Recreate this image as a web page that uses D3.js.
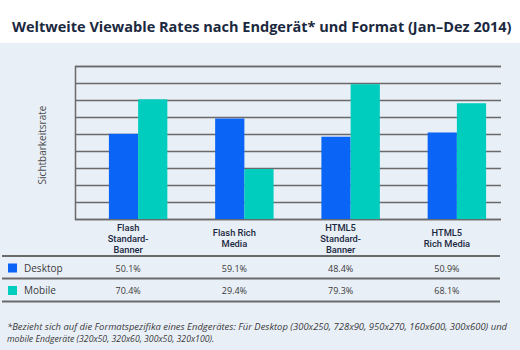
<!DOCTYPE html>
<html><head><meta charset="utf-8">
<script src="https://cdn.jsdelivr.net/npm/d3@7"></script>
<style>
html,body{margin:0;padding:0;background:#fff;}
svg{display:block;font-family:"Open Sans",sans-serif;}
</style></head>
<body><svg id="c" width="520" height="350"></svg>
<script>
const categories = [["Flash","Standard-","Banner"],["Flash Rich","Media"],["HTML5","Standard-","Banner"],["HTML5","Rich Media"]];
const seriesNames = ["Desktop","Mobile"];
const desktop = [50.1, 59.1, 48.4, 50.9];
const mobile = [70.4, 29.4, 79.3, 68.1];
const desktopLabels = ["50.1%","59.1%","48.4%","50.9%"];
const mobileLabels = ["70.4%","29.4%","79.3%","68.1%"];
const yTicks = [0,10,20,30,40,50,60,70,80,90];
const colors = ["#0a64f5","#00cdbd"];
const titleText = "Weltweite Viewable Rates nach Endgerät* und Format (Jan–Dez 2014)";
const yLabel = "Sichtbarkeitsrate";
const footnote = ["*Bezieht sich auf die  Formatspezifika eines Endgerätes: Für  Desktop (300x250, 728x90, 950x270, 160x600, 300x600) und","mobile Endgeräte (320x50, 320x60, 300x50, 320x100)."];

const svg = d3.select("#c");
svg.append("rect").attr("x",0).attr("y",43).attr("width",520).attr("height",307).attr("fill","#e9eff7");
const title = svg.append("text").attr("x",12).attr("y",32).attr("font-size",15.5).attr("font-weight",700)
  .attr("fill","#1b2940").text(titleText);
const tw = title.node().getComputedTextLength();
title.attr("font-size", 15.5*500/tw);

const idx = d3.range(categories.length);
const y = d3.scaleLinear().domain([0,90]).range([219,66]);
const xBars = d3.scaleBand().domain(idx).range([85,510]).paddingInner(0.45).paddingOuter(0.225);
const xTable = d3.scaleBand().domain(idx).range([75,500]);
const xs = d3.scaleBand().domain([0,1]).range([0,xBars.bandwidth()]);

// grid
const yAxis = d3.axisLeft(y).tickValues(yTicks).tickSize(-426).tickFormat("");
const g = svg.append("g").attr("transform","translate(75,0)").call(yAxis);
g.select(".domain").attr("stroke","#6a6a6a").attr("stroke-width",1.5);
g.selectAll(".tick line").attr("stroke","#6a6a6a").attr("stroke-width",1.5);

// bars
const series = [desktop, mobile];
series.forEach((vals,si)=>{
  svg.append("g").selectAll("rect").data(vals).join("rect")
    .attr("x",(d,i)=>xBars(i)+xs(si))
    .attr("y",d=>y(d))
    .attr("width",xs.bandwidth())
    .attr("height",d=>y(0)-y(d))
    .attr("fill",colors[si]);
});

// y label
svg.append("text").attr("transform","translate(46,145) rotate(-90)").attr("text-anchor","middle")
  .attr("font-size",10).attr("fill","#4a4a4a").text(yLabel);

// table header (multi-line via tspans)
categories.forEach((lines,i)=>{
  const n = lines.length;
  const cx = xTable(i)+xTable.bandwidth()/2;
  const t = svg.append("text").attr("x",cx).attr("y",n===3 ? 231 : 236)
      .attr("text-anchor","middle").attr("font-size",9.3).attr("font-weight",500)
      .attr("font-family","Roboto, sans-serif")
      .attr("fill","#1b2940");
  lines.forEach((l,j)=>{
    t.append("tspan").attr("x",cx).attr("dy", j===0 ? 0 : 11).text(l);
  });
});
// table lines
[256,278.5,301.5].forEach(yy=>{
  svg.append("line").attr("x1",2).attr("x2",500).attr("y1",yy).attr("y2",yy)
    .attr("stroke","#6a6a6a").attr("stroke-width",1.8);
});
const rowsY = [268,290.5];
const labelsArr = [desktopLabels, mobileLabels];
seriesNames.forEach((name,si)=>{
  svg.append("rect").attr("x",8).attr("y",rowsY[si]-4.5).attr("width",9).attr("height",9).attr("fill",colors[si]);
  svg.append("text").attr("x",24).attr("y",rowsY[si]+3.5).attr("font-size",10).attr("fill","#3a3a3a").text(name);
  labelsArr[si].forEach((t,i)=>{
    svg.append("text").attr("x",xTable(i)+xTable.bandwidth()/2).attr("y",rowsY[si]+3.5)
      .attr("text-anchor","middle").attr("font-size",9).attr("fill","#3a3a3a").text(t);
  });
});

// footnote
footnote.forEach((l,j)=>{
  const t = svg.append("text").attr("x",7).attr("y",330+j*12).attr("font-size",8.7).attr("font-style","italic")
    .attr("fill","#3a3a3a").text(l);
  if(j===0){ const w = t.node().getComputedTextLength(); t.attr("font-size", 8.7*500/w); }
});
</script></body></html>
